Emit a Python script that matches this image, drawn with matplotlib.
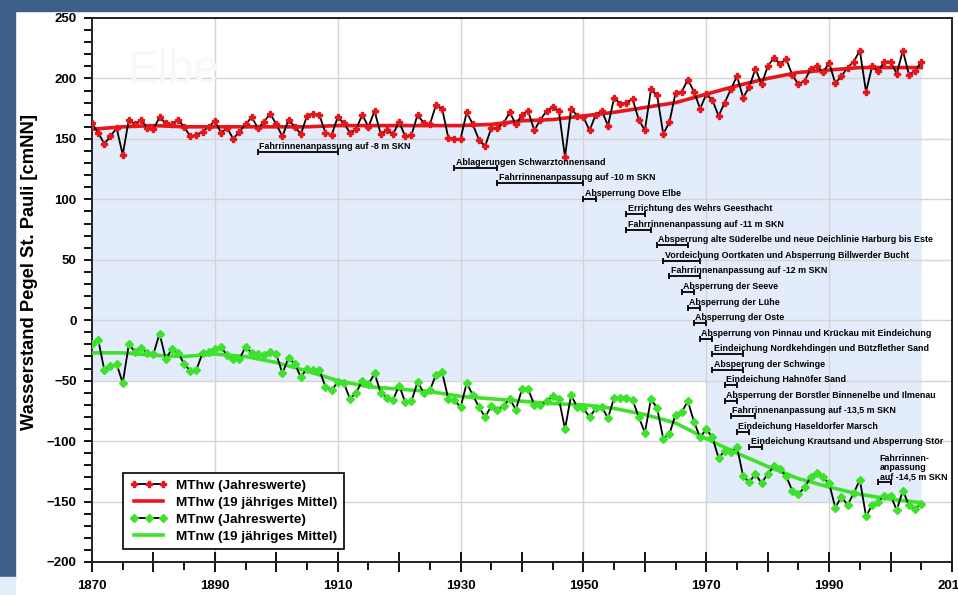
import numpy as np
import matplotlib
matplotlib.use('Agg')
import matplotlib.pyplot as plt
from matplotlib.patches import Rectangle
from matplotlib.lines import Line2D
from matplotlib.ticker import MultipleLocator, FuncFormatter

plt.rcParams['font.family'] = ['Liberation Sans', 'DejaVu Sans']

# Jahreswerte Pegel St. Pauli [cmNN]
jahre = np.arange(1870, 2006)
mthw = [163, 155, 146, 152, 159, 137, 166, 162, 166, 159,
        158, 168, 163, 162, 166, 160, 152, 153, 156, 160,
        165, 155, 159, 150, 156, 162, 168, 159, 164, 171,
        162, 152, 166, 160, 154, 169, 171, 170, 155, 153,
        168, 163, 155, 158, 170, 160, 173, 154, 157, 154,
        164, 152, 153, 170, 163, 162, 178, 175, 151, 150,
        150, 172, 162, 149, 144, 159, 159, 163, 172, 162,
        170, 173, 157, 166, 173, 176, 173, 135, 175, 169,
        168, 157, 170, 173, 161, 184, 179, 180, 183, 166,
        157, 191, 186, 154, 164, 188, 189, 199, 189, 175,
        187, 182, 169, 180, 191, 202, 184, 193, 208, 195,
        210, 217, 212, 216, 203, 195, 198, 208, 210, 205,
        213, 196, 202, 209, 214, 223, 189, 210, 206, 214,
        214, 204, 223, 203, 206, 214]
mtnw = [-20, -16, -41, -38, -36, -52, -20, -26, -23, -27,
        -28, -11, -32, -24, -27, -36, -42, -41, -27, -26,
        -24, -22, -29, -32, -32, -22, -27, -28, -29, -26,
        -28, -44, -31, -36, -47, -40, -41, -41, -55, -58,
        -51, -52, -65, -60, -50, -53, -44, -60, -64, -66,
        -54, -68, -67, -51, -60, -58, -45, -43, -65, -66,
        -72, -52, -62, -72, -80, -71, -74, -71, -65, -74,
        -57, -57, -70, -70, -67, -63, -65, -90, -62, -72,
        -73, -80, -73, -72, -81, -64, -64, -64, -66, -80,
        -93, -65, -73, -98, -94, -78, -76, -67, -84, -97,
        -90, -97, -114, -108, -109, -105, -129, -134, -127, -135,
        -127, -121, -123, -129, -141, -144, -138, -130, -126, -130,
        -135, -155, -146, -153, -143, -132, -162, -153, -150, -145,
        -145, -157, -141, -153, -156, -152]

# 19jaehrige Mittel, alle 5 Jahre
mittel_jahre = np.arange(1870, 2006, 5)
mthw_mittel = [158, 160, 161, 160, 160, 160, 160, 160, 161, 161, 161, 161, 161, 162,
               165, 166, 169, 172, 176, 180, 187, 194, 200, 205, 207, 209, 209, 209]
mtnw_mittel = [-27, -27, -29, -30, -28, -30, -35, -42, -50, -55, -57, -59, -63, -65,
               -67, -69, -70, -73, -78, -85, -98, -110, -121, -131, -138, -144, -148, -151]

# Ausbaumassnahmen mit Zeitraum
massnahmen = [
    'Fahrrinnenanpassung auf -8 m SKN',
    'Ablagerungen Schwarztonnensand',
    'Fahrrinnenanpassung auf -10 m SKN',
    'Absperrung Dove Elbe',
    'Errichtung des Wehrs Geesthacht',
    'Fahrrinnenanpassung auf -11 m SKN',
    'Absperrung alte Süderelbe und neue Deichlinie Harburg bis Este',
    'Vordeichung Oortkaten und Absperrung Billwerder Bucht',
    'Fahrrinnenanpassung auf -12 m SKN',
    'Absperrung der Seeve',
    'Absperrung der Lühe',
    'Absperrung der Oste',
    'Absperrung von Pinnau und Krückau mit Eindeichung',
    'Eindeichung Nordkehdingen und Bützflether Sand',
    'Absperrung der Schwinge',
    'Eindeichung Hahnöfer Sand',
    'Absperrung der Borstler Binnenelbe und Ilmenau',
    'Fahrrinnenanpassung auf -13,5 m SKN',
    'Eindeichung Haseldorfer Marsch',
    'Eindeichung Krautsand und Absperrung Stör',
    'Fahrrinnen-\nanpassung\nauf -14,5 m SKN',
]
beginn = [1897, 1929, 1936, 1950, 1957, 1957, 1962, 1963, 1964, 1966, 1967,
          1968, 1969, 1971, 1971, 1973, 1973, 1974, 1975, 1977, 1998]
ende = [1910, 1936, 1950, 1952, 1960, 1961, 1967, 1969, 1969, 1968, 1969,
        1970, 1971, 1976, 1976, 1975, 1975, 1978, 1977, 1979, 2000]

ROT = '#e8161b'
GRUEN = '#3ee22c'
BLAU_HELL = '#e3ecfa'

fig = plt.figure(figsize=(9.58, 5.95), dpi=100)
fig.patches.append(Rectangle((0, 1 - 11 / 595), 1, 11 / 595, transform=fig.transFigure,
                             color='#3b5f89', zorder=0))
fig.patches.append(Rectangle((0, 18 / 595), 15 / 958, 1 - 18 / 595, transform=fig.transFigure,
                             color='#3b5f89', zorder=0))
fig.patches.append(Rectangle((0, 0), 15 / 958, 18 / 595, transform=fig.transFigure,
                             color='#e4eef8', zorder=0))

ax = fig.add_axes([92 / 958, 33 / 595, 860 / 958, 544 / 595])
ax.set_xlim(1870, 2010)
ax.set_ylim(-200, 250)

# Hintergrundflaeche
mj = np.array(mittel_jahre)
ax.fill_between(mj, mthw_mittel, -50, where=mj <= 1970, color=BLAU_HELL, lw=0, zorder=0.2)
ax.fill_between(mj, mthw_mittel, -150, where=mj >= 1970, color=BLAU_HELL, lw=0, zorder=0.2)

# Gitter
for x in range(1890, 2010, 20):
    ax.axvline(x, color='#d4d4d4', lw=1, zorder=0.5)
for y in range(-150, 250, 50):
    ax.axhline(y, color='#d4d4d4', lw=1, zorder=0.5)

ax.text(1875.7, 196, 'Elbe', fontsize=33, color='#f8f8f8', zorder=0.6)

ax.plot(mittel_jahre, mthw_mittel, color=ROT, lw=2.6, zorder=3)
ax.plot(mittel_jahre, mtnw_mittel, color=GRUEN, lw=2.6, zorder=3)
ax.plot(jahre, mthw, color='black', lw=1.3, marker='P', ms=5, mfc=ROT, mec=ROT, zorder=4)
ax.plot(jahre, mtnw, color='black', lw=1.3, marker='D', ms=3.8, mfc=GRUEN, mec=GRUEN, zorder=4)

# Massnahmen mit Zeitraum
for i, (text, b, e) in enumerate(zip(massnahmen, beginn, ende)):
    y = 139 - 12.85 * i if i < 20 else -134
    ax.errorbar((b + e) / 2, y, xerr=(e - b) / 2, fmt='none', ecolor='black',
                elinewidth=1.3, capsize=2.5, capthick=1.3, zorder=5)
    ax.text(b + 0.2, y + 2.5, text, fontsize=6.4, fontweight='bold', ha='left',
            va='baseline', linespacing=1.0, zorder=6)

# Achsen
ax.xaxis.set_major_locator(MultipleLocator(10))
ax.xaxis.set_minor_locator(MultipleLocator(5))
ax.xaxis.set_major_formatter(FuncFormatter(lambda v, p: f'{int(round(v))}' if int(round(v)) % 20 == 10 else ''))
ax.yaxis.set_major_locator(MultipleLocator(50))
ax.yaxis.set_minor_locator(MultipleLocator(10))
ax.tick_params(axis='x', which='major', direction='inout', length=14, width=1.3, pad=6, labelsize=9.5)
ax.tick_params(axis='x', which='minor', direction='out', length=6, width=1.3)
ax.tick_params(axis='y', which='both', direction='out', length=6, width=1.3, pad=5, labelsize=9.5)
for lab in ax.get_xticklabels() + ax.get_yticklabels():
    lab.set_fontweight('bold')
for s in ax.spines.values():
    s.set_linewidth(1.4)
    s.set_color('#222222')

fig.text(30 / 958, 1 - 272 / 595, 'Wasserstand Pegel St. Pauli [cmNN]', rotation=90,
         ha='center', va='center', fontsize=13.2, fontweight='bold')

handles = [
    Line2D([], [], color='black', lw=1.3, marker='P', ms=5, mfc=ROT, mec=ROT),
    Line2D([], [], color=ROT, lw=2.6),
    Line2D([], [], color='black', lw=1.3, marker='D', ms=3.8, mfc=GRUEN, mec=GRUEN),
    Line2D([], [], color=GRUEN, lw=2.6),
]
namen = ['MThw (Jahreswerte)', 'MThw (19 jähriges Mittel)',
         'MTnw (Jahreswerte)', 'MTnw (19 jähriges Mittel)']
leg = ax.legend(handles, namen, loc='lower left', bbox_to_anchor=(0.036, 0.023),
                borderaxespad=0, numpoints=3, fancybox=False, edgecolor='black',
                framealpha=1, handlelength=2.8, handletextpad=0.65, labelspacing=0.34,
                borderpad=0.5, prop={'size': 9.7, 'weight': 'bold'})
leg.get_frame().set_linewidth(1.2)
leg.set_zorder(7)

fig.savefig('out.png', dpi=100)
